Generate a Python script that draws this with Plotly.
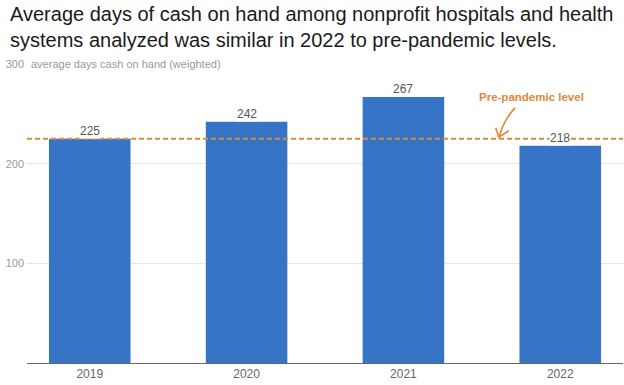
import plotly.graph_objects as go

years = ["2019", "2020", "2021", "2022"]
days_cash = [225, 242, 267, 218]
pre_pandemic_level = 225
y_ticks = [100, 200, 300]

BAR = "#3674c6"
ORANGE = "#e0883a"
FONT = "Liberation Sans, Arial"

xs = list(range(len(years)))

fig = go.Figure()
fig.add_trace(go.Bar(
    x=xs, y=days_cash, marker=dict(color=BAR, line=dict(width=0)),
    width=0.52, hoverinfo="skip",
))

fig.add_shape(type="line", xref="paper", x0=0, x1=1, yref="y",
              y0=pre_pandemic_level, y1=pre_pandemic_level,
              line=dict(color=ORANGE, width=2, dash="5px,3px"), layer="above")

# hand-drawn style arrow from the label to the reference line
fig.add_shape(type="path", xref="x", yref="y",
              path="M 2.711 256 Q 2.640 244 2.609 226.5",
              line=dict(color=ORANGE, width=1.6), layer="above")
fig.add_shape(type="path", xref="x", yref="y",
              path="M 2.588 236 L 2.609 226.5 L 2.672 233",
              line=dict(color=ORANGE, width=1.6), layer="above")

annotations = []
for xi, v in zip(xs, days_cash):
    annotations.append(dict(x=xi, y=v, yref="y", xref="x", text=str(v),
                            showarrow=False, yanchor="bottom", yshift=0,
                            font=dict(size=12, color="#555555", family=FONT),
                            bgcolor="white", borderpad=0))

annotations.append(dict(xref="paper", x=0, yref="y", y=300, xanchor="left",
                        xshift=2, text="average days cash on hand (weighted)",
                        showarrow=False, bgcolor="white", borderpad=1,
                        font=dict(size=11, color="#999999", family=FONT)))

annotations.append(dict(x=2.815, y=267, xref="x", yref="y",
                        text="<b>Pre-pandemic level</b>", showarrow=False,
                        font=dict(size=11.5, color=ORANGE, family=FONT)))

annotations.append(dict(
    xref="paper", yref="paper", x=(8 - 27) / 596, y=1 + (64 - 1) / 299,
    xanchor="left", yanchor="top", align="left", showarrow=False,
    text="Average days of cash on hand among nonprofit hospitals and health<br>"
         "systems analyzed was similar in 2022 to pre-pandemic levels.",
    font=dict(size=20, color="#1a1a1a", family=FONT)))

fig.update_layout(
    width=624, height=385,
    margin=dict(l=27, r=1, t=64, b=22),
    paper_bgcolor="white", plot_bgcolor="white",
    showlegend=False,
    annotations=annotations,
    font=dict(family=FONT),
)

fig.update_xaxes(range=[-0.4, 3.4], tickvals=xs, ticktext=years,
                 showline=True, linecolor="#666666", linewidth=1, ticks="",
                 tickfont=dict(size=12, color="#666666"), showgrid=False,
                 zeroline=False, fixedrange=True)
fig.update_yaxes(range=[0, 300], tickvals=y_ticks, showgrid=True,
                 gridcolor="#e6e6e6", gridwidth=1, zeroline=False,
                 tickfont=dict(size=11, color="#999999"), ticks="",
                 ticklabelstandoff=2, fixedrange=True)

fig.write_html("out.html", config={"displayModeBar": False}, post_script=(
    "document.body.style.margin='0';document.body.style.overflow='hidden';"))
